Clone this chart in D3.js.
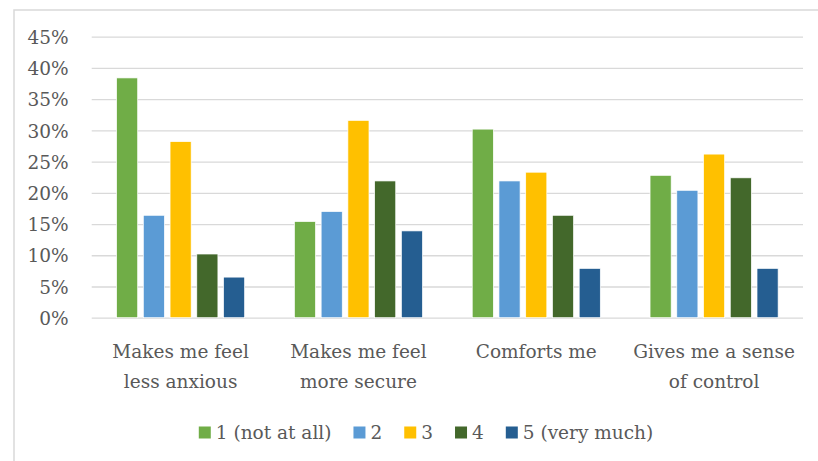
<!DOCTYPE html>
<html lang="en">
<head>
  <meta charset="UTF-8">
  <title>Responses by statement</title>
  <style>
    body { margin: 0; background: #fff; }
  </style>
</head>
<body>
<div id="chart"></div>
<script src="https://d3js.org/d3.v7.min.js"></script>
<script>

// categories and series (in %)
const categories = [
  ["Makes me feel", "less anxious"],
  ["Makes me feel", "more secure"],
  ["Comforts me"],
  ["Gives me a sense", "of control"]
];
const seriesNames = ["1 (not at all)", "2", "3", "4", "5 (very much)"];
const seriesColors = ["#70ad47", "#5b9bd5", "#ffc000", "#43682b", "#255e91"];
const s1 = [38.4, 15.4, 30.2, 22.8];
const s2 = [16.4, 17.0, 21.9, 20.4];
const s3 = [28.2, 31.6, 23.3, 26.2];
const s4 = [10.2, 21.9, 16.4, 22.4];
const s5 = [6.5, 13.9, 7.9, 7.9];
const yTicks = [0, 5, 10, 15, 20, 25, 30, 35, 40, 45];

const series = [s1, s2, s3, s4, s5];

const FONT = "'DejaVu Serif', serif";
const FS = "18.5px";
const W = 818, H = 461;
const margin = { top: 36.7, right: 15, bottom: 141, left: 91.7 };

const svg = d3.select("#chart").append("svg")
  .attr("width", W)
  .attr("height", H)
  .attr("font-family", FONT);

// outer frame (only top and left edges show)
svg.append("path")
  .attr("d", `M14,${H} L14,10 L${W},10`)
  .attr("fill", "none")
  .attr("stroke", "#d9d9d9")
  .attr("stroke-width", 1.5);

const x0 = d3.scaleBand()
  .domain(d3.range(categories.length))
  .range([margin.left, W - margin.right]);

const x1 = d3.scaleBand()
  .domain(d3.range(series.length))
  .range([0, x0.bandwidth()])
  .paddingInner(0.21)
  .paddingOuter(0.93);

const y = d3.scaleLinear()
  .domain([0, 45])
  .range([H - margin.bottom - 2.3, margin.top]);

function txt(sel) {
  sel.attr("fill", "#595959")
    .style("font-family", FONT)
    .style("font-size", FS);
}

// gridlines + tick labels
const yAxis = d3.axisLeft(y)
  .tickValues(yTicks)
  .tickSize(-(W - margin.right - margin.left))
  .tickPadding(23)
  .tickFormat(d => d + "%");

const gy = svg.append("g")
  .attr("transform", `translate(${margin.left},0)`)
  .call(yAxis);
gy.select(".domain").remove();
gy.selectAll(".tick line").attr("stroke", "#d9d9d9").attr("stroke-width", 1.3);
gy.selectAll(".tick text").attr("dy", "0.36em").call(txt);

// bars
const groups = svg.append("g").selectAll("g")
  .data(categories)
  .join("g")
  .attr("transform", (d, i) => `translate(${x0(i)},0)`);

groups.selectAll("rect")
  .data((d, i) => series.map((s, k) => ({ k, v: s[i] })))
  .join("rect")
  .attr("x", d => x1(d.k))
  .attr("width", x1.bandwidth())
  .attr("y", d => y(d.v))
  .attr("height", d => y(0) - y(d.v))
  .attr("fill", d => seriesColors[d.k])
  .attr("stroke", "#fff")
  .attr("stroke-width", 0.7);

// category labels
const catLabels = svg.append("g").selectAll("text")
  .data(categories)
  .join("text")
  .attr("text-anchor", "middle")
  .call(txt)
  .attr("transform", (d, i) => `translate(${x0(i) + x0.bandwidth() / 2},358)`);
catLabels.selectAll("tspan")
  .data(d => d)
  .join("tspan")
  .attr("x", 0)
  .attr("dy", (d, j) => j === 0 ? 0 : 30)
  .text(d => d);

// legend, laid out from measured text widths and centred
const legend = svg.append("g");
const items = legend.selectAll("g")
  .data(seriesNames)
  .join("g");
items.append("rect")
  .attr("x", 0)
  .attr("y", -12)
  .attr("width", 12)
  .attr("height", 12)
  .attr("fill", (d, i) => seriesColors[i]);
items.append("text")
  .attr("x", 17)
  .call(txt)
  .text(d => d);

let cx = 0;
const pos = [];
items.each(function () {
  pos.push(cx);
  cx += 17 + d3.select(this).select("text").node().getComputedTextLength() + 22;
});
const total = cx - 22;
items.attr("transform", (d, i) => `translate(${pos[i]},0)`);
legend.attr("transform", `translate(${426 - total / 2},438.5)`);

</script>
</body>
</html>
